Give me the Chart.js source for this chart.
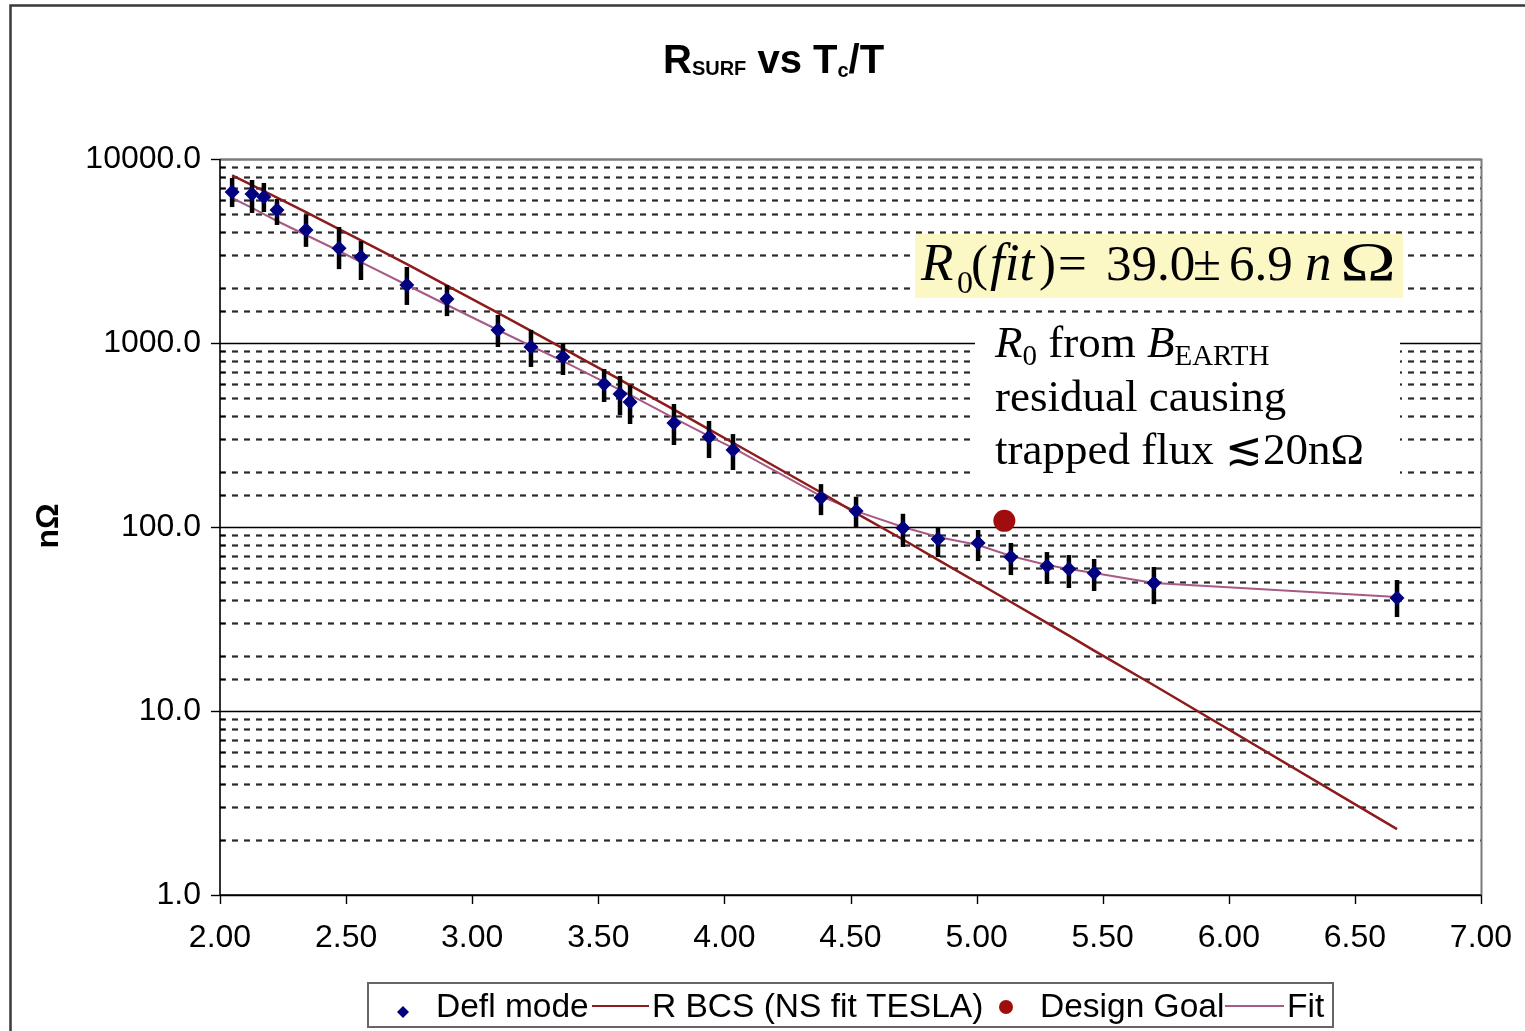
<!DOCTYPE html>
<html>
<head>
<meta charset="utf-8">
<script src="https://cdn.jsdelivr.net/npm/chart.js@4.4.0/dist/chart.umd.min.js"></script>
<style>html,body{margin:0;padding:0;background:#fff}canvas{display:block}</style>
</head>
<body>
<canvas id="c" width="1525" height="1031"></canvas>
<script>
// ---- data ----
const tcOverT = [2.048, 2.127, 2.174, 2.226, 2.341, 2.472, 2.559, 2.741, 2.900, 3.102, 3.233, 3.360, 3.523, 3.586, 3.626, 3.800, 3.939, 4.034, 4.383, 4.522, 4.708, 4.847, 5.006, 5.136, 5.279, 5.366, 5.466, 5.703, 6.667];
const deflMode = [6620, 6460, 6210, 5280, 4110, 3270, 2930, 2065, 1735, 1178, 951, 839, 598, 528, 478, 367, 308, 262, 144, 122, 98.8, 86.1, 81.9, 68.7, 61.4, 59.1, 56.2, 49.6, 41.1];
const errHigh = [7880, 7690, 7410, 6060, 4960, 4270, 3580, 2590, 2065, 1420, 1178, 1000, 722, 662, 591, 466, 377, 320, 171, 146, 118, 98.8, 96.3, 81.9, 73.1, 70.4, 67.0, 60.6, 51.5];
const errLow = [5480, 5090, 5150, 4380, 3330, 2520, 2200, 1610, 1400, 951, 741, 670, 478, 406, 363, 279, 237, 204, 116, 98.8, 77.9, 68.7, 65.3, 54.8, 49.0, 46.6, 44.9, 38.1, 32.4];
const rBCS = [8140, 7210, 6700, 6170, 5140, 4160, 3610, 2680, 2050, 1457, 1165, 936, 706, 632, 589, 434, 339, 287, 154, 119, 85.5, 66.3, 49.6, 39.1, 30.1, 25.7, 21.3, 13.8, 2.28];
const fitValues = [6138, 5420, 5023, 4603, 3864, 3162, 2754, 2066, 1609, 1177, 963, 798, 614, 556, 522, 391, 312, 269, 147, 122, 100, 88.3, 79.8, 69.6, 62.1, 59.1, 56.2, 49.6, 41.6];
const goalX = [5.11];
const goalY = [108];
const xMin = 2, xMax = 7, xStep = 0.5;
const yMin = 1, yMax = 10000;
const legendLabels = ['Defl mode', 'R BCS (NS fit TESLA)', 'Design Goal', 'Fit'];

const COL_DEFL = '#000080';
const COL_BCS = '#8E1B1B';
const COL_GOAL = '#A00D0D';
const COL_FIT = '#A85A86';
const SANS = '"Liberation Sans", Arial, sans-serif';
const SERIF = '"Liberation Serif", "Times New Roman", serif';

const pts = (xs, ys) => xs.map((x, i) => ({x: x, y: ys[i]}));

function drawRun(ctx, x, base, pieces) {
  for (const p of pieces) {
    ctx.font = p.f;
    ctx.fillText(p.t, x, base + (p.dy || 0));
    x += ctx.measureText(p.t).width;
  }
  return x;
}

const deco = {
  id: 'deco',
  beforeDraw(chart) {
    const ctx = chart.ctx;
    ctx.save();
    ctx.fillStyle = '#fff';
    ctx.fillRect(0, 0, chart.width, chart.height);
    ctx.strokeStyle = '#3a3a3a';
    ctx.lineWidth = 2.5;
    ctx.strokeRect(10.5, 5.5, 1700, 1200);
    ctx.restore();
  },
  beforeDatasetsDraw(chart) {
    const {ctx, chartArea: a, scales: {x, y}} = chart;
    ctx.save();
    y.ticks.forEach(t => {
      const lg = Math.log10(t.value);
      const major = Math.abs(lg - Math.round(lg)) < 1e-9;
      const py = Math.round(y.getPixelForValue(t.value)) + 0.5;
      ctx.beginPath();
      if (major) { ctx.setLineDash([]); ctx.strokeStyle = '#000'; ctx.lineWidth = 1.4; }
      else { ctx.setLineDash([6, 6]); ctx.strokeStyle = '#2a2a2a'; ctx.lineWidth = 2.2; }
      ctx.moveTo(a.left, py); ctx.lineTo(a.right, py); ctx.stroke();
    });
    ctx.setLineDash([]);
    ctx.strokeStyle = '#7a7a7a'; ctx.lineWidth = 2;
    ctx.beginPath(); ctx.moveTo(a.left, a.top + 0.5); ctx.lineTo(a.right + 0.5, a.top + 0.5); ctx.lineTo(a.right + 0.5, a.bottom); ctx.stroke();
    ctx.strokeStyle = '#000'; ctx.lineWidth = 1.6;
    ctx.beginPath(); ctx.moveTo(a.left, a.top); ctx.lineTo(a.left, a.bottom); ctx.lineTo(a.right, a.bottom); ctx.stroke();
    ctx.lineWidth = 1.4;
    y.ticks.forEach(t => {
      const lg = Math.log10(t.value);
      const major = Math.abs(lg - Math.round(lg)) < 1e-9;
      const py = Math.round(y.getPixelForValue(t.value)) + 0.5;
      ctx.beginPath();
      if (major) { ctx.moveTo(a.left - 9, py); ctx.lineTo(a.left, py); }
      else { ctx.moveTo(a.left, py); ctx.lineTo(a.left + 5, py); }
      ctx.stroke();
    });
    x.ticks.forEach(t => {
      const px = Math.round(x.getPixelForValue(t.value)) + 0.5;
      ctx.beginPath(); ctx.moveTo(px, a.bottom); ctx.lineTo(px, a.bottom + 9); ctx.stroke();
    });
    ctx.fillStyle = '#FBF8C6';
    ctx.fillRect(915, 234, 488, 64);
    ctx.fillStyle = '#fff';
    ctx.fillRect(975, 316, 425, 174);
    ctx.restore();
  },
  beforeDatasetDraw(chart, args) {
    if (args.index !== 0) return;
    const {ctx, scales: {x, y}} = chart;
    ctx.save();
    ctx.strokeStyle = '#000';
    ctx.lineWidth = 4.5;
    tcOverT.forEach((tx, i) => {
      const px = x.getPixelForValue(tx);
      ctx.beginPath();
      ctx.moveTo(px, y.getPixelForValue(errHigh[i]));
      ctx.lineTo(px, y.getPixelForValue(errLow[i]));
      ctx.stroke();
    });
    ctx.restore();
  },
  afterDraw(chart) {
    const ctx = chart.ctx;
    ctx.save();
    ctx.fillStyle = '#000';
    ctx.textBaseline = 'alphabetic';
    ctx.textAlign = 'left';
    // title
    drawRun(ctx, 663, 73, [
      {t: 'R', f: 'bold 40px ' + SANS},
      {t: 'SURF', f: 'bold 20px ' + SANS, dy: 2},
      {t: ' vs T', f: 'bold 40px ' + SANS},
      {t: 'c', f: 'bold 20px ' + SANS, dy: 4},
      {t: '/T', f: 'bold 40px ' + SANS}
    ]);
    // y-axis title
    ctx.save();
    ctx.translate(49, 526);
    ctx.rotate(-Math.PI / 2);
    ctx.textAlign = 'center';
    ctx.textBaseline = 'middle';
    ctx.font = 'bold 32px ' + SANS;
    ctx.fillText('nΩ', 0, 0);
    ctx.restore();
    // annotation 1
    const it = 'italic 53px ' + SERIF, rg = '51px ' + SERIF;
    const a1 = [
      ['R', 921, it, 280], ['0', 957, '32px ' + SERIF, 293], ['(', 971, rg, 280], ['fit', 990, it, 280],
      [')', 1039, rg, 280], ['=', 1058, rg, 280], ['39.0', 1106, rg, 280], ['±', 1193, rg, 280],
      ['6.9', 1229, rg, 280], ['n', 1305, it, 280]
    ];
    a1.forEach(p => { ctx.font = p[2]; ctx.fillText(p[0], p[1], p[3]); });
    ctx.save();
    ctx.font = '55px ' + SERIF;
    const wO = ctx.measureText('Ω').width;
    ctx.translate(1340, 280);
    ctx.scale(56 / wO, 1);
    ctx.fillText('Ω', 0, 0);
    ctx.restore();
    // annotation 2
    const it2 = 'italic 45px ' + SERIF, rg2 = '45px ' + SERIF, sub2 = '29px ' + SERIF;
    drawRun(ctx, 995, 357, [
      {t: 'R', f: it2}, {t: '0', f: sub2, dy: 8}, {t: ' from ', f: rg2},
      {t: 'B', f: it2}, {t: 'EARTH', f: sub2, dy: 8}
    ]);
    drawRun(ctx, 995, 411, [{t: 'residual causing', f: rg2}]);
    drawRun(ctx, 995, 464, [{t: 'trapped flux \u227220nΩ', f: rg2}]);
    // legend
    ctx.fillStyle = '#fff';
    ctx.fillRect(368, 983, 965, 44);
    ctx.strokeStyle = '#666'; ctx.lineWidth = 2;
    ctx.strokeRect(368, 983, 965, 44);
    const lf = '33.5px ' + SANS;
    ctx.font = lf;
    const lb = 1017;
    ctx.fillStyle = COL_DEFL;
    ctx.beginPath(); ctx.moveTo(403, 1006); ctx.lineTo(409, 1012); ctx.lineTo(403, 1018); ctx.lineTo(397, 1012); ctx.closePath(); ctx.fill();
    ctx.fillStyle = '#000';
    ctx.fillText(legendLabels[0], 436, lb);
    ctx.strokeStyle = COL_BCS; ctx.lineWidth = 2;
    ctx.beginPath(); ctx.moveTo(592, 1006); ctx.lineTo(649, 1006); ctx.stroke();
    ctx.fillText(legendLabels[1], 652, lb);
    ctx.fillStyle = COL_GOAL;
    ctx.beginPath(); ctx.arc(1006, 1007, 7, 0, Math.PI * 2); ctx.fill();
    ctx.fillStyle = '#000';
    ctx.fillText(legendLabels[2], 1040, lb);
    ctx.strokeStyle = COL_FIT;
    ctx.beginPath(); ctx.moveTo(1225, 1006); ctx.lineTo(1284, 1006); ctx.stroke();
    ctx.fillText(legendLabels[3], 1287, lb);
    ctx.restore();
  }
};

new Chart(document.getElementById('c'), {
  type: 'scatter',
  data: {
    datasets: [
      {label: legendLabels[0], data: pts(tcOverT, deflMode), showLine: false, pointStyle: 'rectRot', pointRadius: 7.5, pointBackgroundColor: COL_DEFL, pointBorderColor: COL_DEFL, pointBorderWidth: 0},
      {label: legendLabels[1], data: pts(tcOverT, rBCS), showLine: true, borderColor: COL_BCS, borderWidth: 2.5, pointRadius: 0, tension: 0},
      {label: legendLabels[2], data: pts(goalX, goalY), showLine: false, pointStyle: 'circle', pointRadius: 11, pointBackgroundColor: COL_GOAL, pointBorderColor: COL_GOAL, pointBorderWidth: 0},
      {label: legendLabels[3], data: pts(tcOverT, fitValues), showLine: true, borderColor: COL_FIT, borderWidth: 2, pointRadius: 0, tension: 0}
    ]
  },
  options: {
    responsive: false,
    animation: false,
    devicePixelRatio: 1,
    layout: {padding: {left: 0, top: 159, right: 44, bottom: 0}},
    plugins: {legend: {display: false}, tooltip: {enabled: false}, title: {display: false}},
    scales: {
      x: {
        type: 'linear', min: xMin, max: xMax,
        grid: {display: false, drawTicks: false},
        border: {display: false},
        ticks: {stepSize: xStep, padding: 24, color: '#000', font: {family: SANS, size: 32}, maxRotation: 0, autoSkip: false,
          callback: v => Number(v).toFixed(2)},
        afterFit: s => { s.height = 136; s.paddingLeft = 0; s.paddingRight = 0; }
      },
      y: {
        type: 'logarithmic', min: yMin, max: yMax,
        grid: {display: false, drawTicks: false},
        border: {display: false},
        ticks: {padding: 19, color: '#000', font: {family: SANS, size: 32}, autoSkip: false,
          callback: v => { const lg = Math.log10(v); return Math.abs(lg - Math.round(lg)) < 1e-9 ? Number(v).toFixed(1) : ''; }},
        afterFit: s => { s.width = 220; s.paddingTop = 0; s.paddingBottom = 0; }
      }
    }
  },
  plugins: [deco]
});
</script>
</body>
</html>
